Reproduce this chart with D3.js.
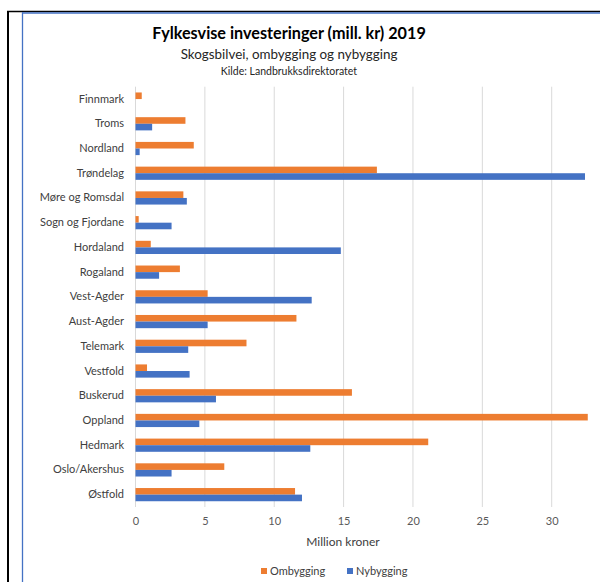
<!DOCTYPE html>
<html>
<head lang="no">
    <meta charset="utf-8">
    <title>Fylkesvise investeringer 2019</title>
    <style type="text/css">
        body {
            margin: 0;
            background-color: #fff;
        }

        text {
            font-family: Lato, "Open Sans", sans-serif;
        }

        .grid line {
            stroke: #d9d9d9;
            stroke-width: 1;
        }

        .tick text {
            fill: #595959;
            font-size: 11px;
        }
    </style>
</head>
<body>

<script src="https://cdn.jsdelivr.net/npm/d3@7/dist/d3.min.js"></script>
<script type="text/javascript">
    // fylker, ovenfra og ned slik de står i figuren
    var fylker = ["Finnmark", "Troms", "Nordland", "Trøndelag", "Møre og Romsdal",
        "Sogn og Fjordane", "Hordaland", "Rogaland", "Vest-Agder", "Aust-Agder",
        "Telemark", "Vestfold", "Buskerud", "Oppland", "Hedmark", "Oslo/Akershus", "Østfold"];

    // millioner kroner, lest av bildet
    var ombygging = [0.45, 3.6, 4.2, 17.4, 3.45, 0.23, 1.1, 3.2, 5.2, 11.6,
        8.0, 0.83, 15.6, 32.6, 21.1, 6.4, 11.5];
    var nybygging = [0, 1.2, 0.3, 32.4, 3.7, 2.6, 14.8, 1.7, 12.7, 5.2,
        3.8, 3.9, 5.8, 4.6, 12.6, 2.6, 12.0];

    var xTicks = [0, 5, 10, 15, 20, 25, 30];
    var serier = ["Ombygging", "Nybygging"];
    var farger = ["#ed7d31", "#4472c4"];

    var width = 600, height = 582;

    var svg = d3.select("body")
        .append("svg")
        .attr("width", width)
        .attr("height", height);

    // ytre rammer (svart + blå kant)
    svg.append("line").attr("x1", 8).attr("x2", 8).attr("y1", 11).attr("y2", height)
        .attr("stroke", "#000").attr("stroke-width", 2);
    svg.append("line").attr("x1", 7).attr("x2", width).attr("y1", 11.5).attr("y2", 11.5)
        .attr("stroke", "#000").attr("stroke-width", 1.5);
    svg.append("line").attr("x1", 22.5).attr("x2", 22.5).attr("y1", 12.5).attr("y2", height)
        .attr("stroke", "#4472c4").attr("stroke-width", 1.3);
    svg.append("line").attr("x1", 22).attr("x2", width).attr("y1", 13).attr("y2", 13)
        .attr("stroke", "#4472c4").attr("stroke-width", 1.3);

    // titler
    svg.append("text")
        .attr("x", 289).attr("y", 39)
        .attr("text-anchor", "middle")
        .style("font-size", "16.2px").style("font-weight", "bold").style("fill", "#000")
        .text("Fylkesvise investeringer (mill. kr) 2019");
    svg.append("text")
        .attr("x", 289).attr("y", 59)
        .attr("text-anchor", "middle")
        .style("font-size", "13.4px").style("fill", "#262626")
        .text("Skogsbilvei, ombygging og nybygging");
    svg.append("text")
        .attr("x", 289).attr("y", 75)
        .attr("text-anchor", "middle")
        .style("font-size", "10.5px").style("fill", "#262626")
        .text("Kilde: Landbrukksdirektoratet");

    // skalaer
    var x = d3.scaleLinear()
        .domain([0, 30])
        .range([135.5, 551.7]);

    var y = d3.scaleBand()
        .domain(fylker)
        .range([86.7, 507]);

    var barH = 6.6;

    // rutenett
    svg.append("g")
        .attr("class", "grid")
        .selectAll("line")
        .data(xTicks)
        .enter()
        .append("line")
        .attr("x1", function (d) { return x(d); })
        .attr("x2", function (d) { return x(d); })
        .attr("y1", 86.7)
        .attr("y2", 507);

    // x-akse (bare tall)
    var xAxis = svg.append("g")
        .attr("transform", "translate(0,507)")
        .call(d3.axisBottom(x).tickValues(xTicks).tickSize(0).tickPadding(10));
    xAxis.select(".domain").remove();

    // kategori-akse
    var yAxis = svg.append("g")
        .attr("transform", "translate(124,0)")
        .call(d3.axisLeft(y).tickSize(0).tickPadding(0));
    yAxis.select(".domain").remove();
    yAxis.selectAll("text").style("fill", "#404040").style("font-size", "11px");

    // søyler
    var series = [ombygging, nybygging];
    series.forEach(function (verdier, s) {
        svg.append("g")
            .selectAll("rect")
            .data(verdier)
            .enter()
            .append("rect")
            .attr("x", x(0))
            .attr("y", function (d, i) {
                return y(fylker[i]) + y.bandwidth() / 2 - barH + s * barH;
            })
            .attr("width", function (d) { return x(d) - x(0); })
            .attr("height", barH)
            .attr("fill", farger[s]);
    });

    // aksetittel
    svg.append("text")
        .attr("x", 343).attr("y", 546)
        .attr("text-anchor", "middle")
        .style("font-size", "12px").style("fill", "#404040")
        .text("Million kroner");

    // forklaring
    var legendX = [261, 347];
    var legend = svg.selectAll(".legend")
        .data(serier)
        .enter()
        .append("g")
        .attr("class", "legend")
        .attr("transform", function (d, i) { return "translate(" + legendX[i] + ",568)"; });
    legend.append("rect")
        .attr("width", 6).attr("height", 6)
        .attr("fill", function (d, i) { return farger[i]; });
    legend.append("text")
        .attr("x", 9).attr("y", 7)
        .style("font-size", "11px").style("fill", "#404040")
        .text(function (d) { return d; });
</script>
</body>
</html>
